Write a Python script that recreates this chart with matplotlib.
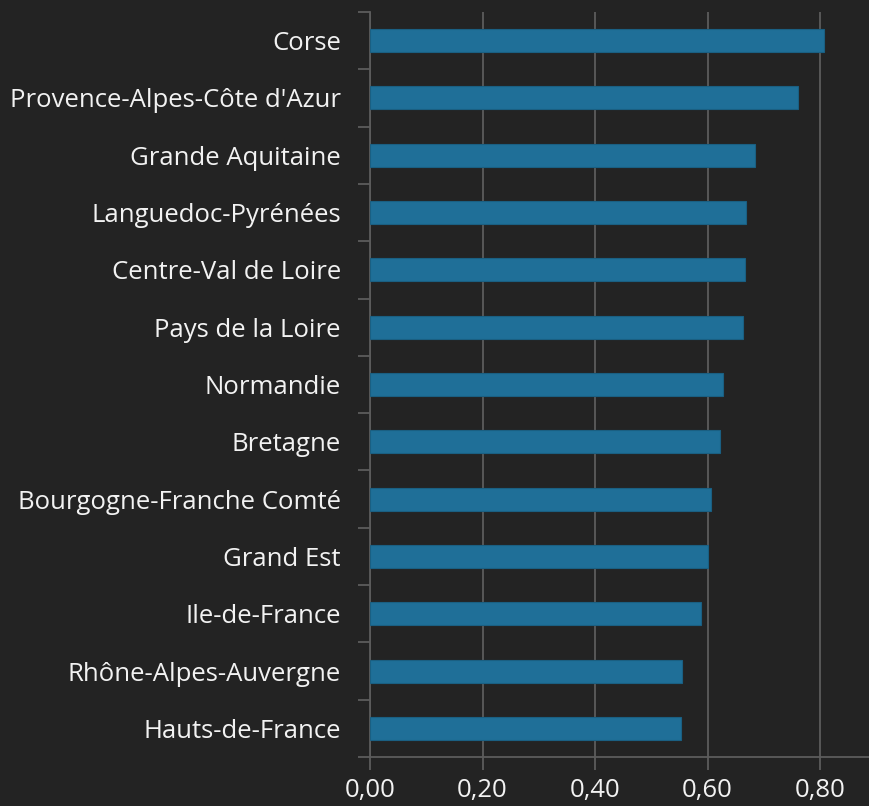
import matplotlib.pyplot as plt
from matplotlib.ticker import FuncFormatter, MultipleLocator, FixedLocator

regions = ['Corse', "Provence-Alpes-Côte d'Azur", 'Grande Aquitaine',
           'Languedoc-Pyrénées', 'Centre-Val de Loire', 'Pays de la Loire',
           'Normandie', 'Bretagne', 'Bourgogne-Franche Comté', 'Grand Est',
           'Ile-de-France', 'Rhône-Alpes-Auvergne', 'Hauts-de-France']
values = [0.807, 0.761, 0.685, 0.668, 0.667, 0.663,
          0.628, 0.622, 0.607, 0.600, 0.589, 0.554, 0.553]

bg = '#232323'
bar_color = '#1f6f98'
line_color = '#5c5c5c'

plt.rcParams['font.family'] = ['Open Sans', 'DejaVu Sans']

fig = plt.figure(figsize=(8.69, 8.06), dpi=100, facecolor=bg)
ax = fig.add_axes([370 / 869, 1 - 757 / 806, 1 - 370 / 869, (757 - 12) / 806])
ax.set_facecolor(bg)

n = len(regions)
pos = list(range(n))[::-1]  # first region at the top
ax.barh(pos, values, height=0.4, color=bar_color, edgecolor='#1a5f82',
        linewidth=0.8, zorder=3)

ax.set_xlim(0, 0.887)
ax.set_ylim(-0.5, n - 0.5)
ax.xaxis.set_major_locator(MultipleLocator(0.2))
ax.xaxis.set_major_formatter(FuncFormatter(lambda v, p: f'{v:.2f}'.replace('.', ',')))
ax.grid(axis='x', color=line_color, linewidth=1.3, zorder=0)

ax.set_yticks(pos)
ax.set_yticklabels(regions)
ax.yaxis.set_minor_locator(FixedLocator([p + 0.5 for p in range(-1, n)]))
ax.tick_params(axis='y', which='major', length=0, pad=21, labelsize=18.5,
               labelcolor='#f2f2f2')
ax.tick_params(axis='y', which='minor', length=9, width=1.3, color=line_color)
ax.tick_params(axis='x', length=9, width=1.3, color=line_color, pad=6,
               labelsize=18.5, labelcolor='#f2f2f2')

for side in ['top', 'right']:
    ax.spines[side].set_visible(False)
for side in ['left', 'bottom']:
    ax.spines[side].set_color(line_color)
    ax.spines[side].set_linewidth(1.3)

fig.savefig('out.png', dpi=100, facecolor=bg)
